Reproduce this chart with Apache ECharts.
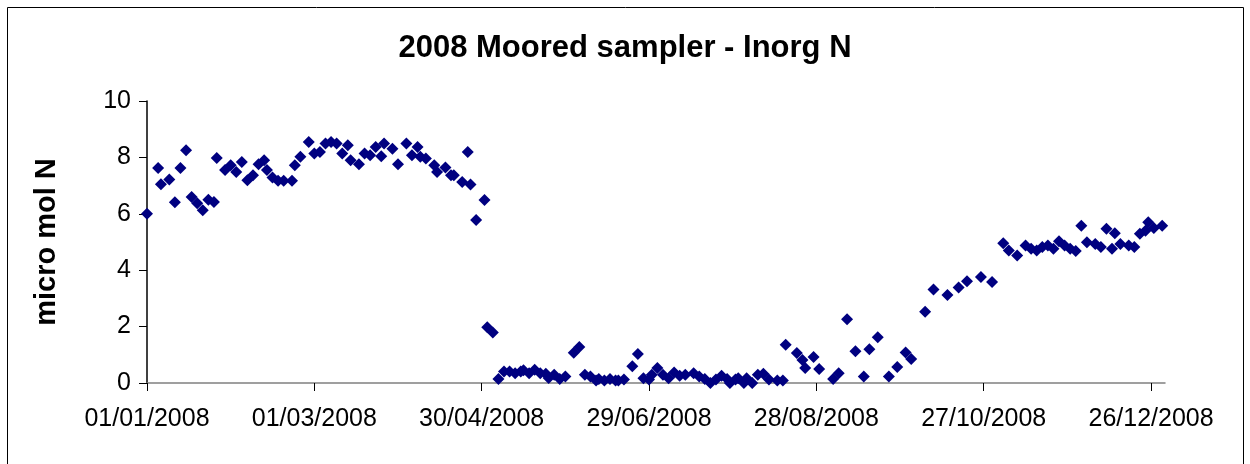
<!DOCTYPE html>
<html>
<head>
<meta charset="utf-8">
<script src="https://cdn.jsdelivr.net/npm/echarts@6/dist/echarts.min.js"></script>
<style>html,body{margin:0;padding:0;background:#fff}#c{width:1250px;height:464px}</style>
</head>
<body>
<div id="c"></div>
<script>
// days since 01/01/2008
const sampleDay = [0,4,5,8,10,12,14,16,18,20,22,24,25,28,30,32,34,36,38,40,42,43,45,47,49,52,53,55,58,60,62,64,66,68,70,72,73,76,78,80,82,84,85,88,90,93,95,97,98,100,103,104,107,109,110,113,115,116,118,121,122,124,126,
128,130,132,134,135,137,139,141,143,144,146,148,150,153,155,157,159,161,162,164,166,168,169,171,174,176,178,180,181,183,185,187,189,191,193,196,198,200,202,204,206,208,209,211,212,214,215,217,219,221,223,226,228,229,233,235,236,239,241,246,248,251,254,257,259,262,266,269,272,274,279,282,287,291,294,299,303,307,309,312,315,317,319,321,323,325,327,329,331,333,335,337,340,342,344,346,347,349,352,354,356,358,359,361,364];
const inorgN = [6.0,7.62,7.05,7.22,6.41,7.62,8.25,6.6,6.37,6.13,6.5,6.42,7.98,7.55,7.72,7.48,7.84,7.19,7.37,7.76,7.9,7.55,7.29,7.17,7.17,7.17,7.72,8.02,8.55,8.14,8.19,8.49,8.55,8.49,8.14,8.43,7.9,7.76,8.14,8.08,8.37,8.04,8.49,8.31,7.76,8.49,8.08,8.37,8.02,7.96,7.72,7.48,7.64,7.37,7.37,7.13,8.19,7.04,5.78,6.49,1.98,1.79,0.14,
0.41,0.41,0.35,0.41,0.45,0.35,0.47,0.35,0.33,0.18,0.29,0.14,0.23,1.07,1.28,0.29,0.23,0.09,0.14,0.09,0.14,0.09,0.09,0.12,0.59,1.03,0.17,0.12,0.29,0.53,0.29,0.17,0.37,0.26,0.29,0.35,0.23,0.14,0.0,0.12,0.26,0.14,0.0,0.12,0.17,0.0,0.17,0.0,0.29,0.33,0.12,0.09,0.09,1.36,1.06,0.82,0.53,0.92,0.5,0.14,0.35,2.26,1.13,0.23,1.2,1.62,0.23,0.57,1.08,0.85,2.53,3.32,3.12,3.39,3.61,3.76,3.58,4.96,4.7,4.52,4.88,4.76,4.7,4.82,4.88,4.76,5.03,4.88,4.76,4.68,5.58,4.99,4.93,4.82,5.47,4.76,5.31,4.93,4.88,4.82,5.29,5.4,5.7,5.5,5.58];
const xTicks = [0,60,120,180,240,300,360];
const yTicks = [0,2,4,6,8,10];

const base = Date.UTC(2008,0,1);
function dayLabel(d){
  const t = new Date(base + d*86400000);
  const dd = String(t.getUTCDate()).padStart(2,'0');
  const mm = String(t.getUTCMonth()+1).padStart(2,'0');
  return dd + '/' + mm + '/' + t.getUTCFullYear();
}
const pts = sampleDay.map((d,i)=>[d, inorgN[i]]);
const font = '"Liberation Sans", Arial, sans-serif';
const chart = echarts.init(document.getElementById('c'), null, {renderer:'canvas'});
chart.setOption({
  animation:false,
  backgroundColor:'#fff',
  graphic:[{type:'rect', shape:{x:7.5,y:7.5,width:1236,height:470}, style:{fill:'none', stroke:'#000', lineWidth:1}, silent:true}],
  title:{text:'2008 Moored sampler - Inorg N', left:'center', top:28,
    textStyle:{fontFamily:font, fontWeight:'bold', fontSize:31, color:'#000'}},
  grid:{left:147, right:85, top:101, bottom:81},
  xAxis:{type:'value', min:0, max:365, interval:60,
    axisLine:{show:true, lineStyle:{color:'#808080', width:1.5}},
    axisTick:{show:true, inside:false, length:8, lineStyle:{color:'#000'}, customValues:xTicks},
    axisLabel:{customValues:xTicks, formatter:v=>dayLabel(v), margin:24, fontFamily:font, fontSize:25, color:'#000'},
    splitLine:{show:false}},
  yAxis:{type:'value', min:0, max:10, interval:2,
    name:'micro mol N', nameLocation:'middle', nameGap:86, nameRotate:90,
    nameTextStyle:{fontFamily:font, fontWeight:'bold', fontSize:29, color:'#000'},
    axisLine:{show:true, lineStyle:{color:'#000', width:1.5}},
    axisTick:{show:true, length:8, lineStyle:{color:'#000'}},
    axisLabel:{margin:16, fontFamily:font, fontSize:25, color:'#000'},
    splitLine:{show:false}},
  series:[{type:'scatter', data:pts, symbol:'diamond', symbolSize:12,
    itemStyle:{color:'#000080', opacity:1}}]
});
</script>
</body>
</html>
